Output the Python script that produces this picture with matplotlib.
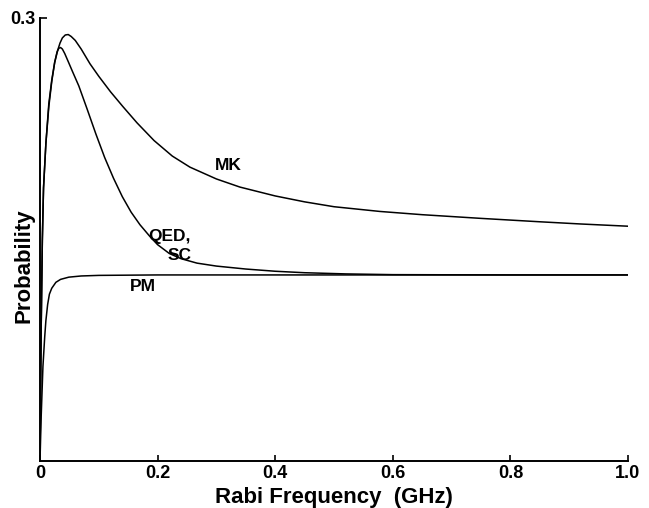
import matplotlib
matplotlib.use("Agg")
import matplotlib.pyplot as plt

plt.rcParams['font.family'] = ['Liberation Sans', 'DejaVu Sans']

# MK curve
mk_x = [0, 0.002, 0.004, 0.006, 0.010, 0.015, 0.020, 0.025, 0.030, 0.034, 0.038, 0.043,
        0.048, 0.053, 0.060, 0.070, 0.085, 0.100, 0.120, 0.141, 0.165, 0.194, 0.225,
        0.255, 0.30, 0.34, 0.40, 0.45, 0.50, 0.578, 0.65, 0.75, 0.85, 0.92, 1.0]
mk_y = [0, 0.09, 0.15, 0.185, 0.215, 0.242, 0.258, 0.270, 0.278, 0.2830, 0.2865, 0.2885,
        0.2888, 0.2875, 0.2848, 0.2790, 0.2690, 0.2605, 0.2500, 0.2400, 0.2290, 0.2170, 0.2065,
        0.1990, 0.1910, 0.1855, 0.1795, 0.1755, 0.1722, 0.1690, 0.1668, 0.1643, 0.1620, 0.1605, 0.1590]

# QED, SC curve
qed_x = [0, 0.002, 0.004, 0.006, 0.010, 0.015, 0.020, 0.025, 0.029, 0.032, 0.035, 0.038,
         0.042, 0.048, 0.055, 0.066, 0.080, 0.095, 0.110, 0.125, 0.140, 0.155, 0.170, 0.187,
         0.200, 0.220, 0.240, 0.267, 0.30, 0.35, 0.40, 0.45, 0.52, 0.60, 0.80, 1.0]
qed_y = [0, 0.09, 0.15, 0.185, 0.215, 0.240, 0.257, 0.270, 0.2770, 0.2795, 0.2800, 0.2790,
         0.2760, 0.2705, 0.2640, 0.2540, 0.2385, 0.2215, 0.2055, 0.1915, 0.1790, 0.1685, 0.1600, 0.1520,
         0.1465, 0.1405, 0.1370, 0.1340, 0.1320, 0.1300, 0.1285, 0.1275, 0.1267, 0.1262, 0.1260, 0.1260]

# PM curve
pm_x = [0, 0.002, 0.005, 0.008, 0.010, 0.013, 0.016, 0.020, 0.027, 0.035, 0.049, 0.07,
        0.10, 0.20, 0.40, 0.60, 0.80, 1.0]
pm_y = [0, 0.03, 0.064, 0.084, 0.095, 0.106, 0.113, 0.117, 0.121, 0.123, 0.1245, 0.1253,
        0.1257, 0.126, 0.126, 0.126, 0.126, 0.126]

x_ticks = [0, 0.2, 0.4, 0.6, 0.8, 1.0]
x_tick_labels = ["0", "0.2", "0.4", "0.6", "0.8", "1.0"]
y_ticks = [0.3]
y_tick_labels = ["0.3"]

fig = plt.figure(figsize=(6.49, 5.08), dpi=100)
ax = fig.add_axes([40/649, 47/508, 588/649, 443/508])

for xs, ys in [(mk_x, mk_y), (qed_x, qed_y), (pm_x, pm_y)]:
    ax.plot(xs, ys, color='black', lw=1.1, solid_joinstyle='round')

ax.set_xlim(0, 1.0)
ax.set_ylim(0, 0.3)
ax.spines['top'].set_visible(False)
ax.spines['right'].set_visible(False)
ax.spines['left'].set_linewidth(1.4)
ax.spines['bottom'].set_linewidth(1.4)

ax.set_xticks(x_ticks)
ax.set_xticklabels(x_tick_labels, fontsize=13, fontweight='bold')
ax.set_yticks(y_ticks)
ax.set_yticklabels(y_tick_labels, fontsize=13, fontweight='bold')
ax.tick_params(axis='x', direction='in', length=4, width=1.2, pad=3)
ax.tick_params(axis='y', direction='in', length=5, width=1.2, pad=3)

ax.set_xlabel("Rabi Frequency  (GHz)", fontsize=16, fontweight='bold', va='baseline')
ax.xaxis.set_label_coords(0.5, (461 - 503) / 443)
ax.set_ylabel("Probability", fontsize=16, fontweight='bold', va='center')
ax.yaxis.set_label_coords((24 - 40) / 588, 0.44)

ax.text(0.321, 0.2004, "MK", fontsize=12.5, fontweight='bold', ha='center', va='center')
ax.text(0.257, 0.1455, "QED,\nSC", fontsize=12.5, fontweight='bold', ha='right', va='center',
        multialignment='right', linespacing=1.3)
ax.text(0.175, 0.118, "PM", fontsize=12.5, fontweight='bold', ha='center', va='center')

fig.savefig("out.png", dpi=100)
